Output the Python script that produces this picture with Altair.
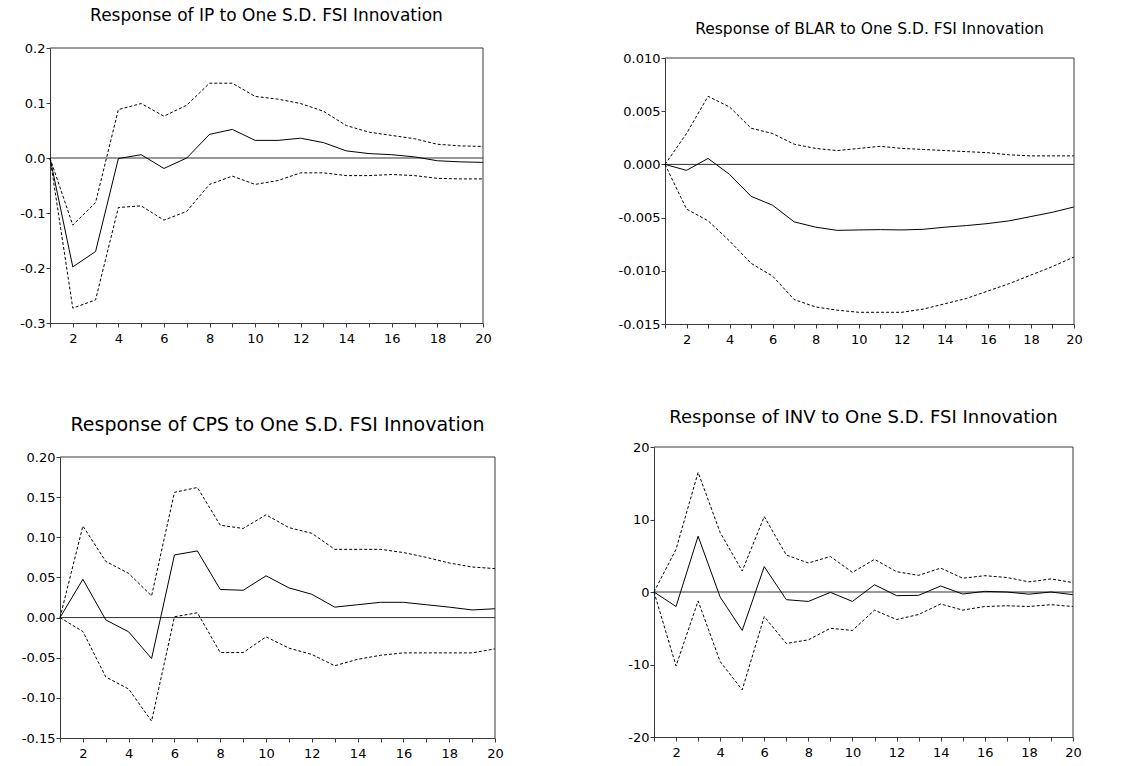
import altair as alt
import pandas as pd

# Impulse-response horizon
steps = list(range(1, 21))

# Response of IP (solid) with its +/- 2 S.E. bands (dashed)
ip_response = [0.0, -0.198, -0.170, -0.001, 0.006, -0.019, 0.0, 0.043, 0.052, 0.032,
               0.032, 0.036, 0.028, 0.013, 0.008, 0.006, 0.002, -0.005, -0.007, -0.008]
ip_upper = [0.0, -0.122, -0.081, 0.088, 0.099, 0.076, 0.096, 0.136, 0.136, 0.112,
            0.107, 0.099, 0.085, 0.059, 0.047, 0.041, 0.035, 0.025, 0.022, 0.021]
ip_lower = [0.0, -0.273, -0.258, -0.090, -0.087, -0.113, -0.097, -0.048, -0.033, -0.048,
            -0.041, -0.027, -0.027, -0.032, -0.032, -0.030, -0.032, -0.037, -0.038, -0.038]

# Response of BLAR
blar_response = [0.0, -0.00056, 0.00056, -0.00094, -0.0030, -0.00384, -0.0054, -0.0059, -0.0062, -0.00616,
                 -0.00613, -0.00616, -0.0061, -0.0059, -0.00575, -0.00556, -0.0053, -0.0049, -0.0045, -0.0040]
blar_upper = [0.0, 0.0029, 0.0064, 0.0054, 0.0034, 0.0029, 0.0019, 0.0015, 0.0013, 0.0015,
              0.0017, 0.0015, 0.0014, 0.0013, 0.0012, 0.0011, 0.0009, 0.0008, 0.0008, 0.0008]
blar_lower = [0.0, -0.0042, -0.0053, -0.0072, -0.0093, -0.0105, -0.0127, -0.0134, -0.0137, -0.0139,
              -0.0139, -0.0139, -0.0136, -0.0131, -0.0126, -0.0119, -0.0112, -0.0104, -0.0096, -0.0087]

# Response of CPS
cps_response = [0.0, 0.0477, -0.0029, -0.0178, -0.051, 0.078, 0.083, 0.035, 0.034, 0.052,
                0.037, 0.029, 0.013, 0.016, 0.019, 0.019, 0.016, 0.013, 0.0095, 0.011]
cps_upper = [0.0, 0.114, 0.070, 0.055, 0.027, 0.156, 0.162, 0.115, 0.111, 0.128,
             0.112, 0.105, 0.085, 0.085, 0.085, 0.081, 0.075, 0.068, 0.063, 0.061]
cps_lower = [0.0, -0.0174, -0.074, -0.089, -0.129, 0.001, 0.006, -0.0436, -0.0436, -0.024,
             -0.038, -0.046, -0.060, -0.052, -0.047, -0.044, -0.044, -0.044, -0.044, -0.039]

# Response of INV
inv_response = [0.0, -2.0, 7.7, -0.7, -5.3, 3.5, -1.06, -1.3, -0.05, -1.3,
                1.0, -0.5, -0.46, 0.83, -0.28, 0.09, 0.0, -0.3, 0.0, -0.37]
inv_upper = [0.0, 5.9, 16.5, 8.2, 2.9, 10.4, 5.1, 4.0, 4.9, 2.7,
             4.5, 2.8, 2.3, 3.3, 1.9, 2.25, 2.0, 1.4, 1.8, 1.3]
inv_lower = [0.0, -10.2, -1.24, -9.6, -13.5, -3.4, -7.1, -6.6, -5.0, -5.3,
             -2.5, -3.8, -3.1, -1.65, -2.5, -2.0, -1.9, -2.0, -1.75, -2.0]

# Y-axis tick values per panel
ip_ticks = [-0.3, -0.2, -0.1, 0.0, 0.1, 0.2]
blar_ticks = [-0.015, -0.010, -0.005, 0.0, 0.005, 0.010]
cps_ticks = [-0.15, -0.10, -0.05, 0.0, 0.05, 0.10, 0.15, 0.20]
inv_ticks = [-20, -10, 0, 10, 20]

FONT = "DejaVu Sans"
FRAME = "#3a3a3a"
MINUS = "\u2212"
LABEL_SIZE = 13


def panel(title, resp, upper, lower, yticks, fmt, width, height,
          dx=0, dy=0, title_size=16, title_offset=10):
    ymin, ymax = yticks[0], yticks[-1]
    lines = pd.DataFrame({
        "step": steps * 3,
        "value": resp + upper + lower,
        "series": ["response"] * 20 + ["upper"] * 20 + ["lower"] * 20,
    })
    x_scale = alt.Scale(domain=[1, 20], range=[dx, width], nice=False, zero=False)
    y_scale = alt.Scale(domain=[ymin, ymax], range=[height, dy], nice=False, zero=False)
    x_axis = alt.Axis(
        values=steps, labelExpr="datum.value % 2 == 0 ? datum.value : ''",
        grid=False, domainColor=FRAME, tickColor=FRAME, tickSize=4, labelPadding=5,
        labelFont=FONT, labelFontSize=LABEL_SIZE, labelColor="black",
        labelFlush=False, labelOverlap=False, labelBound=False,
    )
    y_axis = alt.Axis(
        values=yticks, format=fmt,
        labelExpr="replace(datum.label, '" + MINUS + "', '-')",
        grid=False, domainColor=FRAME, tickColor=FRAME, tickSize=4, labelPadding=1,
        labelFont=FONT, labelFontSize=LABEL_SIZE, labelColor="black",
        labelFlush=False, labelOverlap=False, labelBound=False, offset=-dx,
    )

    def xq(**kw):
        return alt.X(scale=x_scale, axis=x_axis, title=None, **kw)

    def yq(**kw):
        return alt.Y(scale=y_scale, axis=y_axis, title=None, **kw)

    base = alt.Chart(lines)
    dashed = base.transform_filter("datum.series != 'response'").mark_line(
        color="black", strokeWidth=1, strokeDash=[3, 2]
    ).encode(x=xq(field="step", type="quantitative"),
             y=yq(field="value", type="quantitative"),
             detail="series:N")
    solid = base.transform_filter("datum.series == 'response'").mark_line(
        color="black", strokeWidth=1
    ).encode(x=xq(field="step", type="quantitative"),
             y=yq(field="value", type="quantitative"))

    one = alt.Chart(pd.DataFrame({"k": [0]}))
    zero_line = one.mark_rule(color="#333333", strokeWidth=1).encode(
        x=xq(datum=1), x2=alt.X2(datum=20), y=yq(datum=0))
    top_edge = one.mark_rule(color=FRAME, strokeWidth=1).encode(
        x=xq(datum=1), x2=alt.X2(datum=20), y=yq(datum=ymax))
    right_edge = one.mark_rule(color=FRAME, strokeWidth=1).encode(
        x=xq(datum=20), y=yq(datum=ymin), y2=alt.Y2(datum=ymax))

    return alt.layer(zero_line, dashed, solid, top_edge, right_edge).properties(
        width=width, height=height,
        title=alt.TitleParams(
            text=title, font=FONT, fontSize=title_size, fontWeight="normal",
            color="black", anchor="middle", frame="group",
            offset=title_offset, dx=dx / 2,
        ),
    )


p_ip = panel("Response of IP to One S.D. FSI Innovation", ip_response, ip_upper, ip_lower,
             ip_ticks, ".1f", 433, 275, title_size=17, title_offset=17)
p_blar = panel("Response of BLAR to One S.D. FSI Innovation", blar_response, blar_upper, blar_lower,
               blar_ticks, ".3f", 420, 276, dx=11, dy=10, title_size=15.5, title_offset=11)
p_cps = panel("Response of CPS to One S.D. FSI Innovation", cps_response, cps_upper, cps_lower,
              cps_ticks, ".2f", 445, 281, dx=10, title_size=19, title_offset=16)
p_inv = panel("Response of INV to One S.D. FSI Innovation", inv_response, inv_upper, inv_lower,
              inv_ticks, "d", 419, 290, title_size=18, title_offset=14)

left_col = alt.vconcat(p_ip, p_cps, spacing=71)
right_col = alt.vconcat(p_blar, p_inv, spacing=63)

chart = alt.hconcat(left_col, right_col, spacing=114).properties(
    padding={"left": 19, "top": 7, "right": 0, "bottom": 0},
    background="white",
).configure_view(stroke=None)

chart.save("out.html", embed_options={"renderer": "svg", "actions": False})
